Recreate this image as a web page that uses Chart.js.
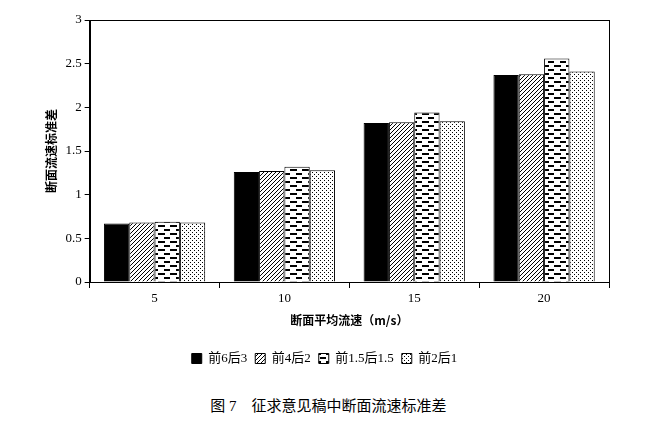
<!DOCTYPE html>
<html><head><meta charset="utf-8">
<script src="https://cdn.jsdelivr.net/npm/chart.js@4"></script>
<style>body{margin:0;background:#fff;width:657px;height:424px;overflow:hidden;font-family:"Liberation Serif","Noto Sans CJK SC",serif}
#w{position:absolute;left:0;top:0;width:657px;height:375px}
#cap{position:absolute;top:394px;left:0;width:657px;text-align:center;font-size:15px;color:#000}</style>
</head><body>
<div id="w"><canvas id="c"></canvas></div>
<div id="cap">图 7　征求意见稿中断面流速标准差</div>
<script>
const categories=['5','10','15','20'];
const seriesNames=['前6后3','前4后2','前1.5后1.5','前2后1'];
const s1=[0.67,1.26,1.82,2.37];
const s2=[0.68,1.27,1.83,2.38];
const s3=[0.69,1.32,1.94,2.56];
const s4=[0.68,1.28,1.84,2.41];
function pat(kind){
  const c=document.createElement('canvas');const x=c.getContext('2d');
  if(kind==='diag'){c.width=c.height=4;x.fillStyle='#fff';x.fillRect(0,0,4,4);x.strokeStyle='#000';x.lineWidth=1;
    x.beginPath();x.moveTo(0,4);x.lineTo(4,0);x.moveTo(-1,1);x.lineTo(1,-1);x.moveTo(3,5);x.lineTo(5,3);x.stroke();}
  else if(kind==='dash'){c.width=12;c.height=8;x.fillStyle='#fff';x.fillRect(0,0,12,8);x.fillStyle='#000';
    x.fillRect(2,1,7,2);x.fillRect(-4,5,6,2);x.fillRect(8,5,6,2);}
  else{c.width=c.height=4;x.fillStyle='#fff';x.fillRect(0,0,4,4);x.fillStyle='#000';x.fillRect(0,0,1,1);x.fillRect(2,2,1,1);}
  return x.createPattern(c,'repeat');
}
const fills=['#000',pat('diag'),pat('dash'),pat('dot')];
const data=[s1,s2,s3,s4];
const frame={id:'frame',afterDraw(ch){const a=ch.chartArea,x=ch.ctx;x.save();x.strokeStyle='#000';x.lineWidth=1;
  x.strokeRect(Math.round(a.left)+.5,Math.round(a.top)+.5,Math.round(a.right-a.left),Math.round(a.bottom-a.top));x.restore();}};
new Chart(document.getElementById('c'),{type:'bar',
 data:{labels:categories,datasets:seriesNames.map((n,i)=>({label:n,data:data[i],backgroundColor:fills[i],borderColor:'#000',borderWidth:1,categoryPercentage:0.78,barPercentage:1}))},
 options:{responsive:true,maintainAspectRatio:false,animation:false,
  layout:{padding:{left:40,right:48,top:20}},
  plugins:{legend:{position:'bottom',labels:{boxWidth:10,boxHeight:10,color:'#000',padding:8,font:{family:'"Liberation Serif","Noto Sans CJK SC"',size:13}}},tooltip:{enabled:false}},
  scales:{
   x:{grid:{drawOnChartArea:false,tickLength:6,color:'#000'},border:{color:'#000'},ticks:{color:'#000',font:{family:'"Liberation Serif"',size:13}},
      title:{display:true,text:'断面平均流速（m/s）',color:'#000',padding:{top:4,bottom:16},font:{family:'"Noto Sans CJK SC"',size:12,weight:'bold'}}},
   y:{min:0,max:3,ticks:{stepSize:0.5,color:'#000',callback:v=>String(+v.toFixed(1)),font:{family:'"Liberation Serif"',size:13}},grid:{drawOnChartArea:false,tickLength:5,color:'#000'},border:{color:'#000'},
      title:{display:true,text:'断面流速标准差',color:'#000',font:{family:'"Noto Sans CJK SC"',size:12,weight:'bold'}}}
  }},plugins:[frame]});
</script></body></html>
